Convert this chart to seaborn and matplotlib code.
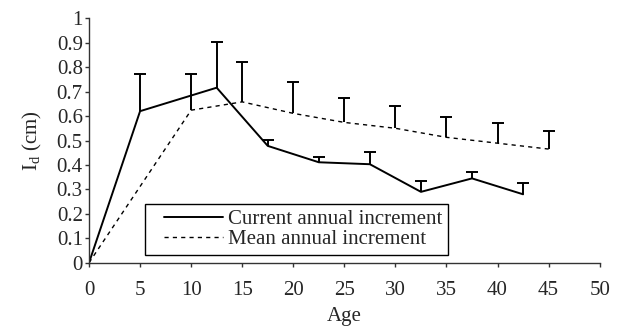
import matplotlib
matplotlib.use("Agg")
import matplotlib.pyplot as plt
from matplotlib.legend_handler import HandlerLine2D
import seaborn as sns
import pandas as pd

# current annual increment
cur_age = [0, 5, 12.5, 17.5, 22.5, 27.5, 32.5, 37.5, 42.5]
cur_val = [0, 0.62, 0.716, 0.478, 0.411, 0.403, 0.29, 0.345, 0.28]
cur_top = [0, 0.773, 0.904, 0.502, 0.434, 0.453, 0.336, 0.371, 0.326]

# mean annual increment
mean_age = [0, 10, 15, 20, 25, 30, 35, 40, 45]
mean_val = [0, 0.624, 0.658, 0.611, 0.574, 0.55, 0.513, 0.489, 0.465]
mean_top = [0, 0.773, 0.82, 0.738, 0.675, 0.641, 0.595, 0.57, 0.539]

sns.set_style("ticks")
plt.rcParams['font.family'] = ['Liberation Serif', 'DejaVu Serif']
plt.rcParams['mathtext.fontset'] = 'custom'
plt.rcParams['mathtext.rm'] = 'Liberation Serif'

df_cur = pd.DataFrame({'age': cur_age, 'val': cur_val})
df_mean = pd.DataFrame({'age': mean_age, 'val': mean_val})

fig = plt.figure(figsize=(6.19, 3.26), dpi=100)
ax = fig.add_axes([0.1438, 0.194, 0.825, 0.75])

sns.lineplot(data=df_cur, x='age', y='val', ax=ax, color='black', lw=1.4,
             label='Current annual increment')
sns.lineplot(data=df_mean, x='age', y='val', ax=ax, color='black', lw=1.0,
             linestyle=(0, (3, 3)), label='Mean annual increment')

# upper error bars only, cap on top only
for ages, vals, tops in [(cur_age, cur_val, cur_top), (mean_age, mean_val, mean_top)]:
    up = [t - v for t, v in zip(tops[1:], vals[1:])]
    _, caps, _ = ax.errorbar(ages[1:], vals[1:], yerr=[[0] * len(up), up], fmt='none',
                             ecolor='black', elinewidth=1.4, capsize=4.5, capthick=1.4)
    for c in caps:
        if list(c.get_ydata()) == list(vals[1:]):
            c.remove()

ax.set_xlim(0, 50)
ax.set_ylim(0, 1)
ax.set_xticks(range(0, 51, 5))
ax.set_yticks([i / 10 for i in range(11)])
ax.set_yticklabels(['0'] + ['0.%d' % i for i in range(1, 10)] + ['1'])
ax.tick_params(labelsize=15, length=3, width=1, color='#333333')
ax.tick_params(axis='x', pad=10)
ax.tick_params(axis='y', pad=1.5)
for s in ['left', 'bottom']:
    ax.spines[s].set_color('#333333')
    ax.spines[s].set_linewidth(1)
sns.despine(ax=ax)

ax.set_xlabel('Age', fontsize=15, labelpad=5)
ax.set_ylabel(r'$\mathregular{I_d}$ (cm)', fontsize=15, labelpad=9)

leg = ax.legend(loc='lower left', bbox_to_anchor=(0.1096, 0.0315), fontsize=15,
                frameon=True, fancybox=False, edgecolor='black', framealpha=1,
                handlelength=3.48, borderpad=0.27, labelspacing=0.05,
                handletextpad=0.24, borderaxespad=0,
                handler_map={matplotlib.lines.Line2D: HandlerLine2D(xpad=0.64)})
leg.get_frame().set_linewidth(1)

fig.savefig('out.png', dpi=100)
